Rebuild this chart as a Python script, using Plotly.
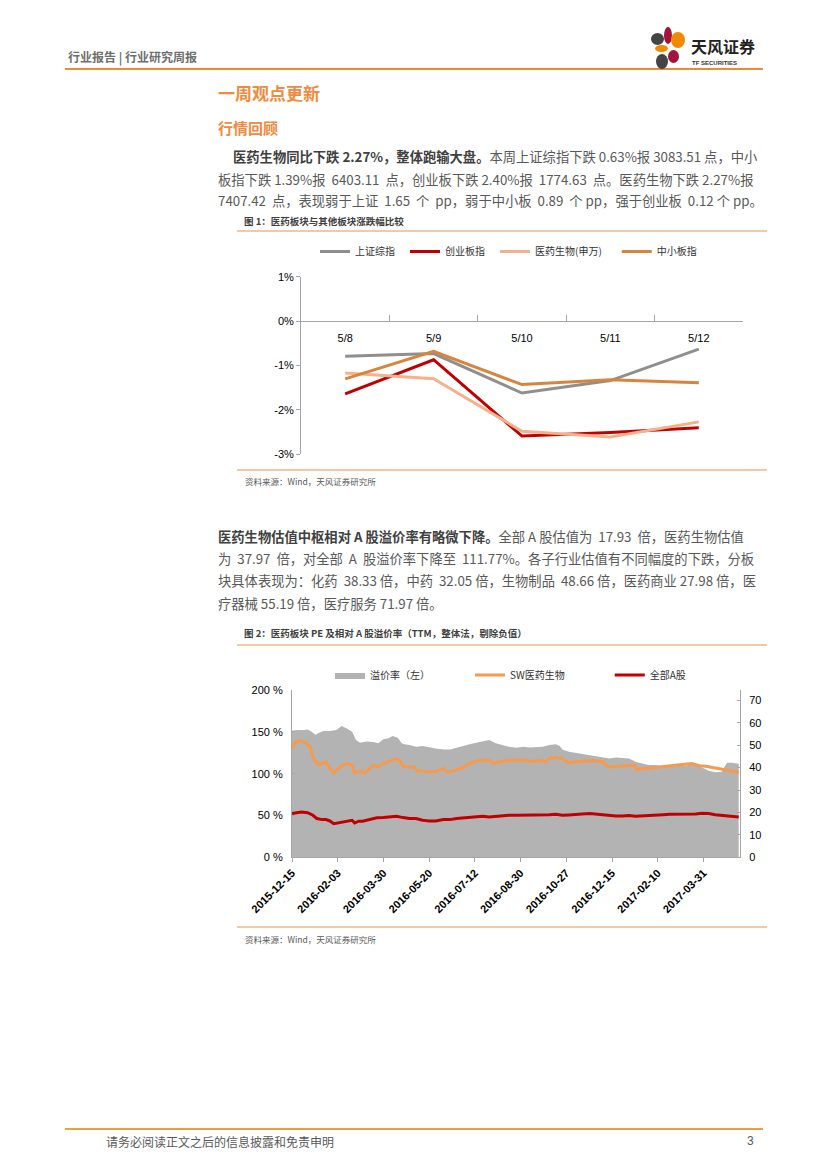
import plotly.graph_objects as go

W, H = 827, 1169
OFF = 8  # the page body adds an 8px margin; shift everything back by it


def px(x):
    return (x - OFF) / W


def py(y):
    return 1 - (y - OFF) / H


# ---------------- Chart 1 data ----------------
days = ["5/8", "5/9", "5/10", "5/11", "5/12"]
sh_comp = [-0.79, -0.73, -1.62, -1.34, -0.63]        # 上证综指
chinext = [-1.64, -0.87, -2.59, -2.51, -2.40]        # 创业板指
pharma_sw = [-1.17, -1.30, -2.48, -2.61, -2.27]      # 医药生物(申万)
sme = [-1.30, -0.68, -1.43, -1.32, -1.39]            # 中小板指
y1_ticks = [-3, -2, -1, 0, 1]
y1_ticktext = ["-3%", "-2%", "-1%", "0%", "1%"]

# ---------------- Chart 2 data (trading-day index) ----------------
prem_idx = [0, 4, 9, 12, 15, 18, 20, 24, 29, 34, 38, 42, 46, 49, 52, 57, 62, 66, 70, 74,
            77, 81, 84, 86, 90, 95, 100, 105, 110, 116, 121, 126, 131, 136, 141, 146, 151,
            156, 161, 166, 172, 177, 182, 187, 192, 197, 202, 205, 207, 212, 217, 222, 228,
            233, 238, 243, 248, 253, 258, 263, 268, 273, 278, 284, 289, 294, 299, 304, 309,
            314, 319, 324, 329, 333, 337, 342]
premium = [151.3, 152.1, 152.1, 152.9, 150.1, 146.2, 148.2, 150.9, 150.9, 152.1, 156.9,
           154.1, 150.1, 140.2, 137.0, 138.3, 137.8, 136.2, 141.0, 142.2, 145.0, 143.0,
           136.2, 135.0, 134.2, 132.2, 133.0, 131.4, 130.2, 129.0, 129.0, 131.0, 133.4,
           135.0, 137.0, 138.3, 140.2, 136.2, 134.2, 132.2, 131.0, 132.2, 131.4, 131.4,
           132.2, 134.2, 135.0, 133.0, 129.0, 126.2, 125.0, 123.4, 122.2, 121.0, 119.4,
           118.2, 119.4, 119.0, 118.2, 114.2, 112.2, 110.2, 110.2, 109.0, 108.2, 109.0,
           109.0, 110.2, 110.2, 107.4, 103.4, 101.8, 102.2, 113.0, 113.0, 111.8]

sw_idx = [0, 2, 5, 9, 12, 14, 16, 19, 21, 24, 26, 29, 32, 34, 39, 43, 46, 48, 51, 53, 56,
          58, 62, 66, 70, 75, 80, 82, 85, 90, 94, 96, 100, 105, 110, 116, 118, 121, 126,
          131, 136, 141, 146, 151, 154, 159, 164, 169, 174, 179, 184, 189, 194, 197, 202,
          207, 212, 217, 222, 228, 233, 238, 242, 248, 253, 258, 262, 264, 271, 276, 281,
          286, 291, 299, 306, 312, 317, 322, 327, 332, 337, 342]
sw_pe = [48.5, 50.8, 51.9, 51.5, 50.4, 49.2, 44.8, 41.8, 41.1, 41.8, 42.6, 39.6, 37.6,
         38.8, 41.1, 41.8, 41.1, 37.6, 38.1, 38.5, 37.6, 38.8, 41.1, 40.3, 41.8, 42.9,
         44.0, 43.3, 40.6, 40.3, 40.3, 38.5, 38.5, 38.1, 38.1, 39.6, 38.4, 38.1, 39.1,
         40.0, 41.8, 43.0, 43.3, 43.3, 41.8, 42.6, 43.0, 43.3, 43.3, 43.3, 42.6, 43.3,
         42.6, 44.0, 44.5, 44.0, 42.1, 42.6, 42.9, 43.0, 42.9, 42.6, 40.3, 40.6, 40.8,
         40.9, 41.1, 39.1, 39.4, 39.9, 40.3, 40.6, 40.9, 41.2, 41.8, 40.8, 40.6, 40.0,
         39.6, 39.1, 38.5, 37.97]

a_idx = [0, 4, 7, 12, 16, 19, 23, 26, 29, 32, 35, 39, 43, 46, 48, 51, 54, 60, 65, 70, 75,
         80, 85, 90, 95, 100, 105, 110, 116, 121, 126, 131, 136, 141, 146, 151, 156, 161,
         166, 172, 177, 182, 187, 192, 197, 202, 207, 212, 217, 222, 228, 233, 238, 243,
         248, 253, 258, 263, 268, 273, 278, 284, 289, 294, 299, 304, 309, 314, 319, 324,
         329, 334, 342]
a_pe = [19.5, 19.9, 20.2, 19.9, 18.75, 17.3, 16.8, 16.8, 16.2, 15.0, 15.3, 15.8, 16.2,
        16.5, 15.3, 16.1, 16.1, 16.8, 17.6, 17.7, 18.0, 18.3, 17.7, 17.3, 17.3, 16.5,
        16.2, 16.2, 16.8, 16.8, 17.3, 17.6, 18.0, 18.3, 18.3, 18.0, 18.3, 18.4, 18.75,
        18.75, 18.75, 19.0, 18.75, 18.75, 19.0, 19.2, 18.75, 18.9, 19.2, 19.3, 19.5, 19.2,
        18.75, 18.6, 18.4, 18.4, 18.6, 18.3, 18.4, 18.75, 18.9, 19.0, 19.2, 19.2, 19.3,
        19.2, 19.3, 19.6, 19.5, 19.0, 18.75, 18.3, 17.93]

x2_tickvals = [0, 35, 70, 105, 140, 175, 210, 245, 280, 315]
x2_ticktext = ["2015-12-15", "2016-02-03", "2016-03-30", "2016-05-20", "2016-07-12",
               "2016-08-30", "2016-10-27", "2016-12-15", "2017-02-10", "2017-03-31"]
y2_ticks = [0, 50, 100, 150, 200]
y2_ticktext = ["0 %", "50 %", "100 %", "150 %", "200 %"]
y3_ticks = [0, 10, 20, 30, 40, 50, 60, 70]

CJK = "Noto Sans CJK SC"
LAT = "Liberation Sans"
AX = "#A6A6A6"
NB = "\u00a0"
ES = "\u2002"   # en space
IS = "\u3000"   # ideographic space

fig = go.Figure()

# chart 1 traces
for name, vals, col, pad in [("上证综指", sh_comp, "#8F8F8F", ES),
                             ("创业板指", chinext, "#C00000", ES),
                             ("医药生物(申万)", pharma_sw, "#F5B08C", IS),
                             ("中小板指", sme, "#D9843C", "")]:
    fig.add_trace(go.Scatter(x=days, y=vals, name=name + pad, mode="lines",
                             line=dict(color=col, width=3),
                             xaxis="x", yaxis="y", legend="legend"))

# chart 2 traces
fig.add_trace(go.Scatter(x=prem_idx, y=premium, name="溢价率（左）" + IS * 4, mode="lines",
                         fill="tozeroy", fillcolor="#B3B3B3",
                         line=dict(color="#B3B3B3", width=0),
                         xaxis="x2", yaxis="y2", legend="legend2"))
fig.add_trace(go.Scatter(x=sw_idx, y=sw_pe, name="SW医药生物" + IS * 4, mode="lines",
                         line=dict(color="#F79A4B", width=3),
                         xaxis="x2", yaxis="y3", legend="legend2"))
fig.add_trace(go.Scatter(x=a_idx, y=a_pe, name="全部A股", mode="lines",
                         line=dict(color="#C00000", width=3),
                         xaxis="x2", yaxis="y3", legend="legend2"))

y1_dom = [py(454.3), py(276.7)]
zero_pos = y1_dom[0] + 0.75 * (y1_dom[1] - y1_dom[0])

fig.update_layout(
    width=W, height=H,
    margin=dict(l=0, r=0, t=0, b=0, pad=0, autoexpand=False),
    paper_bgcolor="white", plot_bgcolor="rgba(0,0,0,0)",
    font=dict(family=CJK, color="#404040"),
    xaxis=dict(domain=[px(301), px(743)], type="category", range=[-0.5, 4.5],
               anchor="free", position=zero_pos, showline=True, linecolor=AX,
               linewidth=1, ticks="inside", ticklen=6, tickcolor=AX,
               tickson="boundaries",
               tickfont=dict(family=LAT, size=11, color="#000"),
               ticklabelstandoff=7, showgrid=False, zeroline=False, automargin=False),
    yaxis=dict(domain=y1_dom, range=[-3, 1], tickvals=y1_ticks, ticktext=y1_ticktext,
               anchor="x", showline=True, linecolor=AX, ticks="outside", ticklen=4,
               tickcolor=AX, tickfont=dict(family=LAT, size=11, color="#000"),
               showgrid=False, zeroline=False, automargin=False),
    xaxis2=dict(domain=[px(292), px(740)], anchor="y2", range=[0, 343],
                tickvals=x2_tickvals, ticktext=x2_ticktext, tickangle=-45,
                showline=True, linecolor=AX, ticks="outside", ticklen=4, tickcolor=AX,
                tickfont=dict(family=LAT, size=11, color="#000", weight="bold"),
                showgrid=False, zeroline=False, automargin=False),
    yaxis2=dict(domain=[py(857.3), py(690)], anchor="x2", range=[0, 200],
                tickvals=y2_ticks, ticktext=y2_ticktext, showline=True, linecolor=AX,
                ticks="inside", ticklen=3, tickcolor=AX, ticklabelstandoff=6,
                tickfont=dict(family=LAT, size=11, color="#000"),
                showgrid=False, zeroline=False, automargin=False),
    yaxis3=dict(overlaying="y2", side="right", anchor="x2", range=[0, 74.6],
                tickvals=y3_ticks, showline=True, linecolor=AX, ticks="inside",
                ticklen=3, tickcolor=AX, ticklabelstandoff=6,
                tickfont=dict(family=LAT, size=11, color="#000"),
                showgrid=False, zeroline=False, automargin=False),
    legend=dict(orientation="h", x=px(315), y=py(251.5), xanchor="left",
                yanchor="middle", bgcolor="rgba(0,0,0,0)",
                font=dict(family=CJK, size=10, color="#333"),
                itemwidth=30, tracegroupgap=0),
    legend2=dict(orientation="h", x=px(330), y=py(675), xanchor="left",
                 yanchor="middle", bgcolor="rgba(0,0,0,0)",
                 font=dict(family=CJK, size=10, color="#333"),
                 itemwidth=30, tracegroupgap=0),
)

shapes = []


def hline(y, x0, x1, color, width):
    shapes.append(dict(type="line", xref="paper", yref="paper", x0=px(x0), x1=px(x1),
                       y0=py(y), y1=py(y), line=dict(color=color, width=width)))


hline(69, 65, 763, "#EE8A35", 2.2)          # header rule
hline(231, 237, 767, "#F2B583", 1.5)        # fig 1 top
hline(470, 237, 767, "#F2B583", 1.5)        # fig 1 bottom
hline(645, 237, 767, "#F2B583", 1.5)        # fig 2 top
hline(927, 237, 767, "#F2B583", 1.5)        # fig 2 bottom
hline(1129, 65, 763, "#EBA040", 2.2)        # footer rule

# logo petals
for (x0, y0, x1, y1, col) in [(651, 33, 664, 45, "#444444"),
                              (664, 27, 672, 44, "#A3133B"),
                              (671, 32, 685, 48, "#F08A00"),
                              (655, 45, 668, 52, "#F08A00"),
                              (668, 50, 679, 63, "#A3133B"),
                              (656, 54, 668, 69, "#444444")]:
    shapes.append(dict(type="circle", xref="paper", yref="paper", x0=px(x0), x1=px(x1),
                       y0=py(y1), y1=py(y0), fillcolor=col, line=dict(width=0)))

annotations = []


def text(x, y, s, size, color="#595959", family=CJK, anchor="left"):
    annotations.append(dict(x=px(x), y=py(y), xref="paper", yref="paper", text=s,
                            showarrow=False, xanchor=anchor, yanchor="middle",
                            font=dict(family=family, size=size, color=color)))


text(66, 57, "<b>行业报告 | 行业研究周报</b>", 12, "#6E6E6E")
text(689, 46, "<b>天风证券</b>", 16, "#222222")
text(690, 63, "<b>TF SECURITIES</b>", 6, "#333333", LAT)
text(216, 93, "<b>一周观点更新</b>", 17, "#F08A3C")
text(216, 127, "<b>行情回顾</b>", 15, "#F08A3C")

BODY = 13.3
S2 = NB + NB
p1 = ["<b><span style='color:#404040'>医药生物同比下跌 2.27%，整体跑输大盘。</span></b>本周上证综指下跌 0.63%报 3083.51 点，中小",
      "板指下跌 1.39%报" + S2 + "6403.11" + S2 + "点，创业板下跌 2.40%报" + S2 + "1774.63" + S2 + "点。医药生物下跌 2.27%报",
      "7407.42" + S2 + "点，表现弱于上证" + S2 + "1.65" + S2 + "个" + S2 + "pp，弱于中小板" + S2 + "0.89" + S2 + "个 pp，强于创业板" + S2 + "0.12 个 pp。"]
text(231, 157, p1[0], BODY)
text(216, 179, p1[1], BODY)
text(216, 201, p1[2], BODY)
text(242, 221, "<b>图 1：医药板块与其他板块涨跌幅比较</b>", 9.5, "#404040")
text(243, 481, "资料来源：Wind，天风证券研究所", 8.5, "#595959")

p2 = ["<b><span style='color:#404040'>医药生物估值中枢相对 A 股溢价率有略微下降。</span></b>全部" + NB + "A" + NB + "股估值为" + S2 + "17.93" + S2 + "倍，医药生物估值",
      "为" + S2 + "37.97" + S2 + "倍，对全部" + S2 + "A" + S2 + "股溢价率下降至" + S2 + "111.77%。各子行业估值有不同幅度的下跌，分板",
      "块具体表现为：化药" + S2 + "38.33 倍，中药" + S2 + "32.05 倍，生物制品" + S2 + "48.66 倍，医药商业 27.98 倍，医",
      "疗器械 55.19 倍，医疗服务 71.97 倍。"]
for i, line in enumerate(p2):
    text(216, 536 + i * 22.4, line, BODY)
text(242, 633, "<b>图 2：医药板块 PE 及相对 A 股溢价率（TTM，整体法，剔除负值）</b>", 9.5, "#404040")
text(243, 939, "资料来源：Wind，天风证券研究所", 8.5, "#595959")

text(104, 1141, "请务必阅读正文之后的信息披露和免责申明", 12, "#595959")
text(756, 1141, "3", 12, "#595959", LAT, anchor="right")

fig.update_layout(shapes=shapes, annotations=annotations)

fig.write_html("out.html")
